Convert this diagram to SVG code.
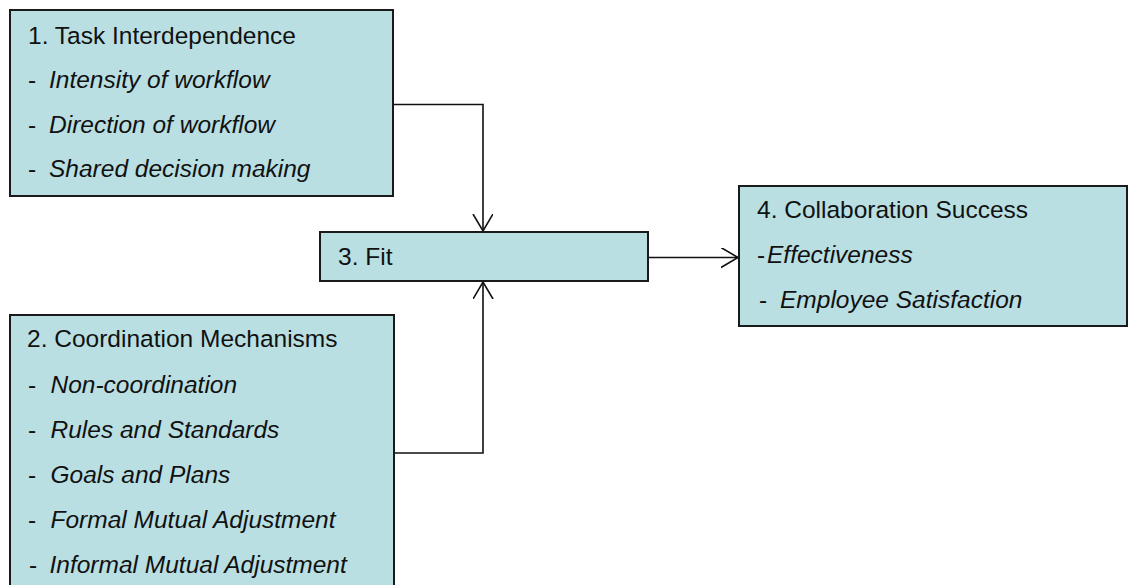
<svg xmlns="http://www.w3.org/2000/svg" width="1128" height="585" viewBox="0 0 1128 585">
  <defs>
    <style>
      .box { fill: #b9dfe3; stroke: #1a1a1a; stroke-width: 2; }
      .t { font-family: "Liberation Sans", Arial, sans-serif; font-size: 24.5px; fill: #111; }
      .i { font-style: italic; }
      .wire { fill: none; stroke: #111; stroke-width: 1.6; }
    </style>
    <marker id="open" markerWidth="22" markerHeight="22" refX="17" refY="10" orient="auto" markerUnits="userSpaceOnUse">
      <path d="M0,0 L17,10 L0,20" fill="none" stroke="#111" stroke-width="1.6"/>
    </marker>
  </defs>
  <rect width="1128" height="585" fill="#fff"/>

  <g id="connectors">
    <path class="wire" d="M393,104.5 H483 V231" marker-end="url(#open)"/>
    <path class="wire" d="M394,453 H483 V282" marker-end="url(#open)"/>
    <path class="wire" d="M648,257.5 L738,257.5" marker-end="url(#open)"/>
  </g>

  <g id="task-interdependence">
    <rect class="box" x="10" y="10" width="383" height="186"/>
    <text class="t" x="28" y="44">1. Task Interdependence</text>
    <text class="t" x="28" y="88">-</text><text class="t i" x="49" y="88">Intensity of workflow</text>
    <text class="t" x="28" y="133">-</text><text class="t i" x="49" y="133">Direction of workflow</text>
    <text class="t" x="28" y="177">-</text><text class="t i" x="49" y="177">Shared decision making</text>
  </g>

  <g id="coordination-mechanisms">
    <rect class="box" x="10" y="315" width="384" height="280"/>
    <text class="t" x="27" y="347">2. Coordination Mechanisms</text>
    <text class="t" x="28" y="393">-</text><text class="t i" x="50.5" y="393">Non-coordination</text>
    <text class="t" x="28" y="438">-</text><text class="t i" x="50.5" y="438">Rules and Standards</text>
    <text class="t" x="28" y="483">-</text><text class="t i" x="50.5" y="483">Goals and Plans</text>
    <text class="t" x="28" y="528">-</text><text class="t i" x="50.5" y="528">Formal Mutual Adjustment</text>
    <text class="t" x="29" y="573">-</text><text class="t i" x="49.5" y="573">Informal Mutual Adjustment</text>
  </g>

  <g id="fit">
    <rect class="box" x="320" y="232" width="328" height="49"/>
    <text class="t" x="338" y="265">3. Fit</text>
  </g>

  <g id="collaboration-success">
    <rect class="box" x="739" y="186" width="388" height="140"/>
    <text class="t" x="757" y="218">4. Collaboration Success</text>
    <text class="t" x="757" y="263">-</text><text class="t i" x="767" y="263">Effectiveness</text>
    <text class="t" x="759" y="308">-</text><text class="t i" x="780" y="308">Employee Satisfaction</text>
  </g>
</svg>
